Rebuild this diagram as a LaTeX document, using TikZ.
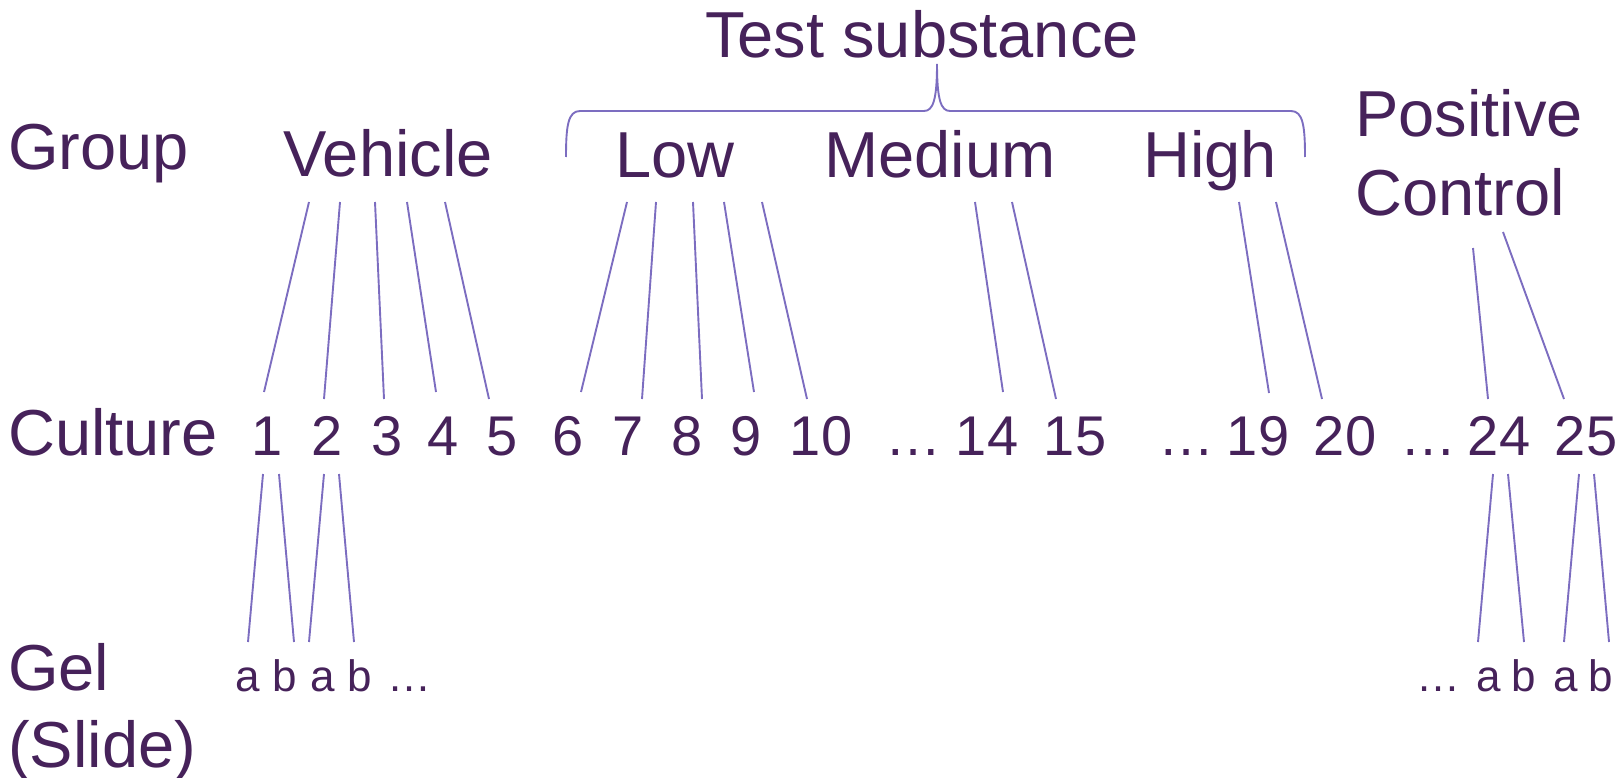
\documentclass[tikz,border=0pt]{standalone}
\usepackage{fontspec}
\setmainfont{Liberation Sans}
\definecolor{ink}{HTML}{46225A}
\definecolor{wire}{HTML}{7C6DC0}
\begin{document}
\begin{tikzpicture}[x=1pt,y=-1pt,
  lbl/.style={inner sep=0,text=ink,font=\fontsize{65}{78}\selectfont},
  num/.style={inner sep=0,text=ink,font=\fontsize{56}{66}\selectfont,anchor=base},
  gelmark/.style={inner sep=0,text=ink,font=\fontsize{44}{52}\selectfont,anchor=base},
  link/.style={draw=wire,line width=1.9pt}]
\useasboundingbox (0,0) rectangle (1624,778);

% row labels and group names
\node[lbl,anchor=base] (test) at (922,58) {Test substance};
\node[lbl,anchor=base west] (group) at (8,170) {Group};
\node[lbl,anchor=base] (veh) at (388,177) {Vehicle};
\node[lbl,anchor=base] (low) at (675,178) {Low};
\node[lbl,anchor=base] (med) at (940,178) {Medium};
\node[lbl,anchor=base] (high) at (1210,178) {High};
\node[lbl,anchor=base west] (pos) at (1355,137) {Positive};
\node[lbl,anchor=base west] (ctl) at (1355,215) {Control};
\node[lbl,anchor=base west] (cult) at (8,455) {Culture};
\node[lbl,anchor=base west] (gel) at (8,690) {Gel};
\node[lbl,anchor=base west] (slide) at (8,767) {(Slide)};

% culture numbers
\foreach \nm/\x/\t in {c1/267/1,c2/327/2,c3/387/3,c4/443/4,c5/502/5,
  c6/568/6,c7/628/7,c8/687/8,c9/746/9,c10/821/10,cdA/913/…,
  c14/987/14,c15/1075/15,cdB/1186/…,c19/1258/19,c20/1345/20,
  cdC/1428/…,c24/1499/24,c25/1586/25}
  \node[num] (\nm) at (\x,455) {\t};

% gel / slide marks
\foreach \nm/\x/\t in {s1a/248/a,s1b/285/b,s2a/323/a,s2b/360/b,sdA/409/…,
  sdB/1438/…,s24a/1489/a,s24b/1524/b,s25a/1566/a,s25b/1601/b}
  \node[gelmark] (\nm) at (\x,691) {\t};

% bracket over the three doses
\draw[link] (566,157) .. controls (566,126) and (568,111) .. (580,111)
  -- (924,111) .. controls (933,111) and (937,100) .. (937,64)
  .. controls (937,100) and (941,111) .. (950,111)
  -- (1291,111) .. controls (1303,111) and (1305,126) .. (1305,157);

% ends of the group-to-culture strokes
\foreach \nm/\x/\y in {
  vA/309/202, vB/340/202, vC/375/202, vD/407/202, vE/445/202,
  kA/264/392, kB/324/399, kC/384/399, kD/436/392, kE/489/399,
  lA/627/202, lB/656/202, lC/693/202, lD/724/202, lE/762/202,
  mA/581/392, mB/642/399, mC/702/399, mD/754/392, mE/807/399,
  dA/975/202, dB/1012/202, nA/1003/392, nB/1056/399,
  hA/1239/202, hB/1276/202, jA/1269/393, jB/1322/399,
  pA/1473/248, pB/1503/232, qA/1488/399, qB/1564/399}
  \coordinate (\nm) at (\x,\y);
\foreach \a/\b in {vA/kA,vB/kB,vC/kC,vD/kD,vE/kE,lA/mA,lB/mB,lC/mC,lD/mD,lE/mE,
  dA/nA,dB/nB,hA/jA,hB/jB,pA/qA,pB/qB}
  \draw[link] (\a) -- (\b);

% ends of the culture-to-gel strokes
\foreach \nm/\x/\y in {
  tA/263/474, tB/279/474, tC/324/474, tD/339/474,
  tE/1493/474, tF/1508/474, tG/1579/474, tH/1594/474,
  uA/248/642, uB/294/642, uC/309/642, uD/354/642,
  uE/1478/642, uF/1524/642, uG/1564/642, uH/1609/642}
  \coordinate (\nm) at (\x,\y);
\foreach \a/\b in {tA/uA,tB/uB,tC/uC,tD/uD,tE/uE,tF/uF,tG/uG,tH/uH}
  \draw[link] (\a) -- (\b);
\end{tikzpicture}
\end{document}
